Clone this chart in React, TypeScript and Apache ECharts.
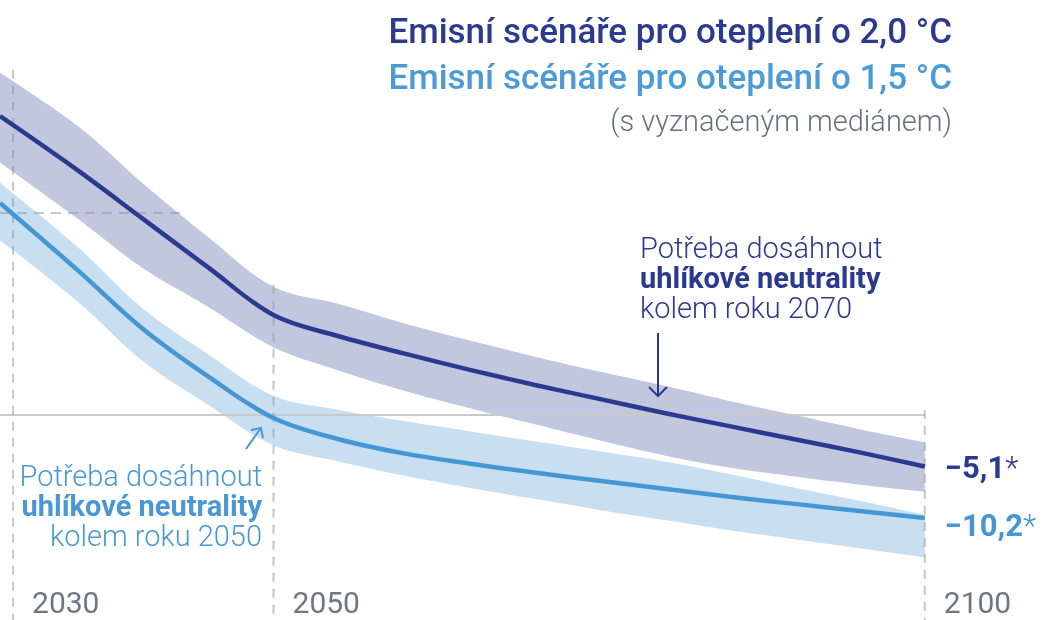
import React, { useEffect, useRef } from 'react';
import * as echarts from 'echarts';

// ---- data ----
const years = [2029, 2035, 2040, 2045, 2050, 2055, 2060, 2065, 2070, 2075, 2080, 2085, 2090, 2095, 2100];
const darkMedian = [29.6, 24.2, 19.4, 14.6, 9.9, 7.8, 6.1, 4.5, 3.0, 1.6, 0.2, -1.1, -2.4, -3.7, -5.1];
const darkUpper = [33.9, 28.6, 22.9, 17.6, 12.7, 11.0, 9.1, 7.4, 5.8, 4.3, 2.9, 1.4, 0.0, -1.4, -2.7];
const darkLower = [25.0, 19.4, 14.5, 10.7, 6.7, 4.4, 2.4, 0.7, -0.9, -2.5, -4.0, -5.2, -6.1, -6.9, -7.6];
const lightMedian = [21.0, 14.3, 8.5, 3.8, -0.3, -2.4, -3.8, -4.8, -5.7, -6.5, -7.3, -8.1, -8.8, -9.5, -10.2];
const lightUpper = [23.0, 16.6, 10.5, 6.0, 1.9, 0.5, -0.6, -1.6, -2.6, -3.6, -4.6, -5.85, -7.2, -8.5, -9.9];
const lightLower = [17.3, 11.2, 5.3, 1.0, -3.0, -4.6, -6.0, -7.2, -8.3, -9.4, -10.4, -11.4, -12.3, -13.2, -14.1];

const yearTicks = [2030, 2050, 2100];
const guideTops = [34.2, 12.9, 0.5]; // where each vertical guide starts
const refLevel = 20.0; // 1.5 °C median in 2030
const refLineEnd = 2043;

const title1 = 'Emisní scénáře pro oteplení o 2,0 °C';
const title2 = 'Emisní scénáře pro oteplení o 1,5 °C';
const subtitle = '(s vyznačeným mediánem)';
const note2070 = ['Potřeba dosáhnout', 'uhlíkové neutrality', 'kolem roku 2070'];
const note2050 = ['Potřeba dosáhnout', 'uhlíkové neutrality', 'kolem roku 2050'];

const DARK = '#2b3a8f';
const LIGHT = '#4597d3';
const LIGHT_TXT = '#4a98d3';
const FONT = 'Roboto, "Noto Sans", sans-serif';
const SMOOTH = 0.35;

const pair = (xs: number[], vs: number[]) => xs.map((x, i) => [x, vs[i]]);
const fmt = (v: number) => (v < 0 ? '\u2212' : '') + Math.abs(v).toFixed(1).replace('.', ',');

// same smoothing rule as ECharts' line series
function smoothSeg(pts: number[][], smooth: number, start: 'M' | 'L'): string {
  const n = pts.length;
  let d = '';
  let c0x = 0, c0y = 0;
  for (let i = 0; i < n; i++) {
    const [x, y] = pts[i];
    if (i === 0) {
      d += `${start}${x} ${y}`;
      c0x = x; c0y = y;
      continue;
    }
    const [px, py] = pts[i - 1];
    let c1x = x, c1y = y, nx0 = x, ny0 = y;
    if (i < n - 1) {
      const [nx, ny] = pts[i + 1];
      const vx = nx - px, vy = ny - py;
      const l0 = Math.hypot(x - px, y - py);
      const l1 = Math.hypot(nx - x, ny - y);
      const r = l1 / (l0 + l1);
      c1x = x - vx * smooth * (1 - r);
      c1y = y - vy * smooth * (1 - r);
      nx0 = x + vx * smooth * r;
      ny0 = y + vy * smooth * r;
      nx0 = Math.max(Math.min(nx0, Math.max(nx, x)), Math.min(nx, x));
      ny0 = Math.max(Math.min(ny0, Math.max(ny, y)), Math.min(ny, y));
      c1x = x - (nx0 - x) * l0 / l1;
      c1y = y - (ny0 - y) * l0 / l1;
      c1x = Math.max(Math.min(c1x, Math.max(px, x)), Math.min(px, x));
      c1y = Math.max(Math.min(c1y, Math.max(py, y)), Math.min(py, y));
      nx0 = x + (x - c1x) * l1 / l0;
      ny0 = y + (y - c1y) * l1 / l0;
    }
    d += `C${c0x} ${c0y} ${c1x} ${c1y} ${x} ${y}`;
    c0x = nx0; c0y = ny0;
  }
  return d;
}

export default function App() {
  const ref = useRef<HTMLDivElement>(null);
  useEffect(() => {
    const chart = echarts.init(ref.current!, null, { renderer: 'svg' });
    const guide = { color: 'rgba(140,146,165,0.5)', width: 2, type: [9, 7] as any };

    const bandSeries = (lo: number[], hi: number[], fill: string) => ({
      type: 'custom',
      data: years.map((y, i) => [y, lo[i], hi[i]]),
      encode: { x: 0, y: [1, 2] },
      silent: true,
      renderItem: (params: any, api: any) => {
        if (params.dataIndex !== 0) return null;
        const up = years.map((y, i) => api.coord([y, hi[i]]));
        const dn = years.map((y, i) => api.coord([y, lo[i]])).reverse();
        const d = smoothSeg(up, SMOOTH, 'M') + smoothSeg(dn, SMOOTH, 'L') + 'Z';
        return { type: 'path', shape: { pathData: d }, style: { fill, stroke: 'none' } };
      },
    });

    const medianSeries = (name: string, vals: number[], color: string, dy: number) => ({
      type: 'line', name, data: pair(years, vals), symbol: 'none', smooth: SMOOTH,
      lineStyle: { color, width: 4.5 }, silent: true, z: 5,
      endLabel: {
        show: true, distance: 20, offset: [0, dy],
        formatter: (p: any) => `{a|${fmt(p.value[1])}}{b|*}`,
        rich: {
          a: { fontFamily: FONT, fontSize: 31, fontWeight: 'bold', color },
          b: { fontFamily: FONT, fontSize: 31, fontWeight: 300, color },
        },
      },
    });

    const note = (lines: string[], color: string, align: string) => ({
      text: `{l|${lines[0]}}\n{b|${lines[1]}}\n{l|${lines[2]}}`,
      align, verticalAlign: 'top', fill: color,
      rich: {
        l: { fontFamily: FONT, fontSize: 29, fontWeight: 300, lineHeight: 30, fill: color, align },
        b: { fontFamily: FONT, fontSize: 29, fontWeight: 'bold', lineHeight: 30, fill: color, align },
      },
    });

    const option: any = {
      animation: false,
      grid: { left: 0, right: 2, top: 0, bottom: 0 },
      xAxis: { type: 'value', min: 2029, max: 2109, show: false },
      yAxis: { type: 'value', min: -20.3, max: 41.1, show: false },
      series: [
        {
          type: 'line', data: [[2029, 0], [2100, 0]], symbol: 'none', silent: true,
          lineStyle: { color: '#c9c9c9', width: 2 },
        },
        bandSeries(darkLower, darkUpper, '#c2c7e0'),
        bandSeries(lightLower, lightUpper, 'rgba(68,150,204,0.3)'),
        ...yearTicks.map((y, i) => ({
          type: 'line', data: [[y, guideTops[i]], [y, -20.3]], symbol: 'none', silent: true,
          lineStyle: guide,
        })),
        {
          type: 'line', data: [[2029, refLevel], [refLineEnd, refLevel]], symbol: 'none', silent: true,
          lineStyle: { ...guide, type: [10, 7] },
        },
        medianSeries('light', lightMedian, LIGHT, 7),
        medianSeries('dark', darkMedian, DARK, 1),
        {
          type: 'scatter', data: yearTicks.map((y) => [y, -18.6]), symbolSize: 0, silent: true,
          label: {
            show: true, position: 'right', distance: 19, lineHeight: 26,
            formatter: (p: any) => String(p.value[0]),
            fontFamily: FONT, fontSize: 30, color: '#4a5562',
          },
        },
      ],
      graphic: [
        {
          type: 'text', x: 952, y: 31, z: 20,
          style: { text: title1, fill: DARK, font: `500 35px ${FONT}`, align: 'right', verticalAlign: 'middle' },
        },
        {
          type: 'text', x: 952, y: 77, z: 20,
          style: { text: title2, fill: '#4a9bd6', font: `500 35px ${FONT}`, align: 'right', verticalAlign: 'middle' },
        },
        {
          type: 'text', x: 952, y: 121, z: 20,
          style: { text: subtitle, fill: '#6a7079', font: `300 29px ${FONT}`, align: 'right', verticalAlign: 'middle' },
        },
        { type: 'text', x: 640, y: 233, z: 20, style: note(note2070, DARK, 'left') },
        { type: 'text', x: 262, y: 461, z: 20, style: note(note2050, LIGHT_TXT, 'right') },
        { type: 'line', z: 20, shape: { x1: 658, y1: 333, x2: 658, y2: 396 }, style: { stroke: DARK, lineWidth: 2 } },
        { type: 'polyline', z: 20, shape: { points: [[649, 387], [658, 396], [667, 387]] }, style: { stroke: DARK, lineWidth: 2, fill: 'none' } },
        { type: 'line', z: 20, shape: { x1: 246, y1: 449, x2: 261, y2: 428 }, style: { stroke: LIGHT_TXT, lineWidth: 2 } },
        { type: 'polyline', z: 20, shape: { points: [[251, 430], [261, 428], [263, 438]] }, style: { stroke: LIGHT_TXT, lineWidth: 2, fill: 'none' } },
      ],
    };
    chart.setOption(option);
    return () => chart.dispose();
  }, []);
  return <div ref={ref} style={{ position: 'fixed', left: 0, top: 0, width: 1044, height: 620 }} />;
}
